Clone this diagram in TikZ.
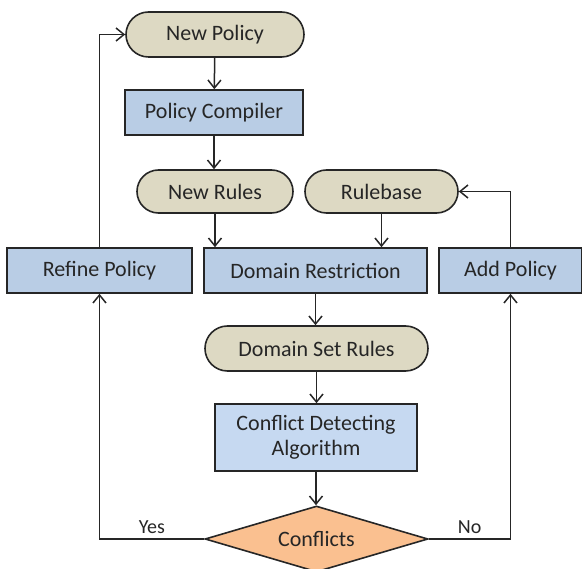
\documentclass[tikz,border=0pt]{standalone}
\usepackage{fontspec}
\setmainfont{Carlito}
\usetikzlibrary{shapes.misc,shapes.geometric,arrows.meta}
\definecolor{tanfill}{HTML}{DDD9C3}
\definecolor{bluefill}{HTML}{B9CDE5}
\definecolor{lightblue}{HTML}{C6D9F1}
\definecolor{orangefill}{HTML}{FAC090}
\definecolor{edge}{HTML}{262626}
\begin{document}
\begin{tikzpicture}[x=1pt,y=-1pt,
  base/.style={draw=edge,line width=1.6pt,inner sep=0pt,text=edge,
    font=\fontsize{22}{25}\selectfont,align=center},
  term/.style={base,rounded rectangle,fill=tanfill,minimum height=45pt},
  proc/.style={base,rectangle,fill=bluefill,minimum height=45pt},
  dec/.style={base,diamond,fill=orangefill,aspect=3.38,minimum width=223pt,minimum height=66pt},
  conn/.style={draw=edge,line width=1.5pt,-{Straight Barb[length=8pt,width=13pt,line width=1.5pt]}},
  lbl/.style={text=edge,font=\fontsize{20}{23}\selectfont}]
\useasboundingbox (0,0) rectangle (582,569);
\node[term,minimum width=178pt] (np) at (215,34.5) {New Policy};
\node[proc,minimum width=178pt] (pc) at (214,112.5) {Policy Compiler};
\node[term,minimum width=156pt,minimum height=43pt] (nr) at (215,191.5) {New Rules};
\node[term,minimum width=153pt,minimum height=43pt] (rb) at (381.5,191.5) {Rulebase};
\node[proc,minimum width=185pt] (rp) at (99.5,270.5) {Refine Policy};
\node[proc,minimum width=223pt] (dr) at (315.5,270.5) {Domain Restriction};
\node[proc,minimum width=143pt] (ap) at (510.5,270.5) {Add Policy};
\node[term,minimum width=223pt] (dsr) at (316.5,348.5) {Domain Set Rules};
\node[proc,fill=lightblue,minimum width=202pt,minimum height=67pt] (cda) at (316,437.5) {Conflict Detecting\\Algorithm};
\node[dec] (cf) at (316.5,539) {Conflicts};
\draw[conn] (np) -- (pc);
\draw[conn] (pc.south) -- (pc.south |- nr.north);
\draw[conn] (nr.south) -- (nr.south |- dr.north);
\draw[conn] (rb.south) -- (rb.south |- dr.north);
\draw[conn] (dr.south) -- (dr.south |- dsr.north);
\draw[conn] (dsr.south) -- (dsr.south |- cda.north);
\draw[conn] (cda.south) -- (cda.south |- cf.north);
\draw[conn] (rp.north) |- (np.west);
\draw[conn] (ap.north) |- (rb.east);
\draw[conn] (cf.west) -| node[lbl,pos=0.25,above=1pt] {Yes} (rp.south);
\draw[conn] (cf.east) -| node[lbl,pos=0.25,above=1pt] {No} (ap.south);
\end{tikzpicture}
\end{document}
